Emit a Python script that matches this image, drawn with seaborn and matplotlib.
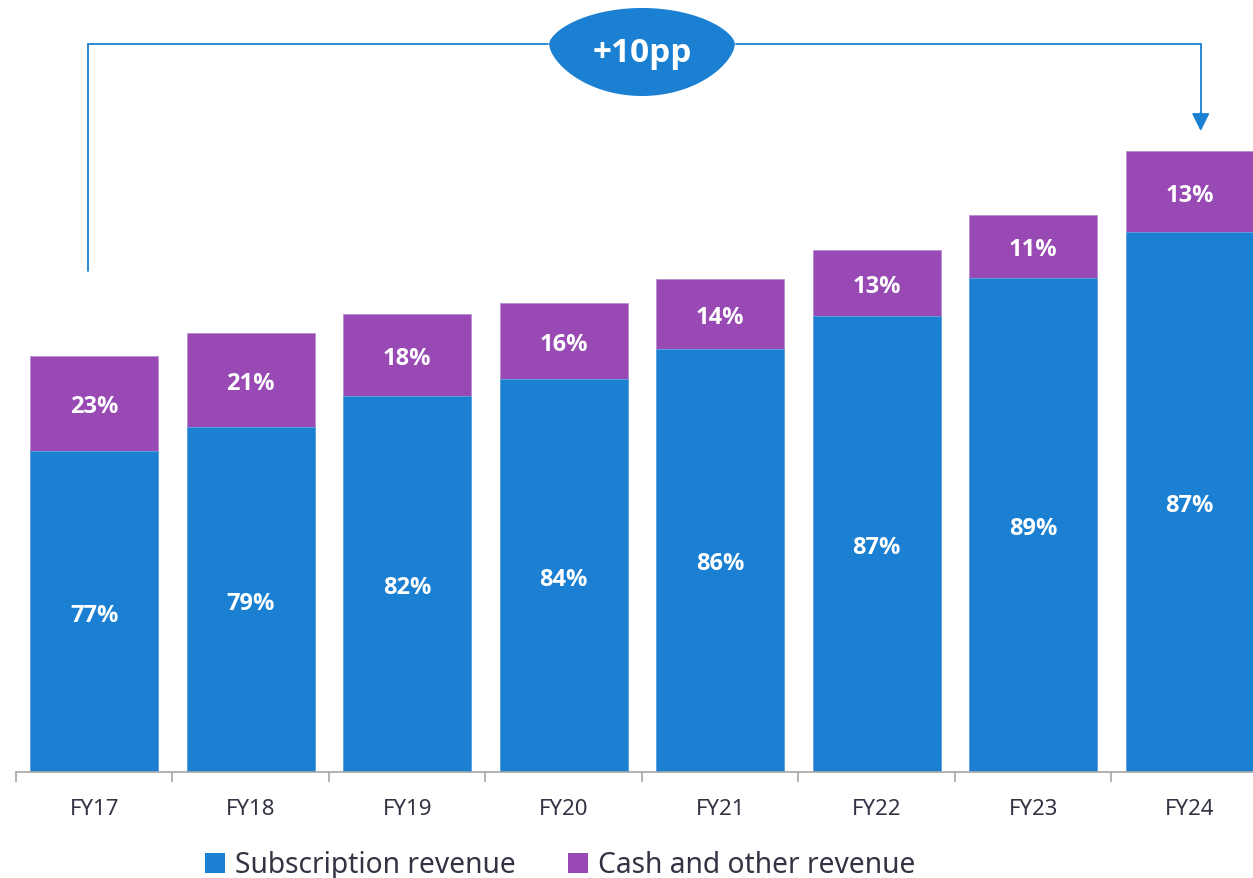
import numpy as np
import pandas as pd
import matplotlib
matplotlib.use("Agg")
import matplotlib.pyplot as plt
from matplotlib.patches import Polygon, Patch
import seaborn as sns

# ---- data ----
years = ["FY17", "FY18", "FY19", "FY20", "FY21", "FY22", "FY23", "FY24"]
subscription = [321, 345, 376, 393, 423, 456, 494, 540]   # relative revenue (arbitrary units)
cash_other = [95, 94, 82, 76, 70, 66, 63, 81]
sub_share = ["77%", "79%", "82%", "84%", "86%", "87%", "89%", "87%"]
cash_share = ["23%", "21%", "18%", "16%", "14%", "13%", "11%", "13%"]
legend_labels = ["Subscription revenue", "Cash and other revenue"]
callout = "+10pp"

BLUE = "#1B80D2"
PURPLE = "#9849B3"
TEXT = "#333344"
GRID = "#A6A6A6"

sns.set_theme(style="white")
plt.rcParams["font.family"] = ["Noto Sans", "DejaVu Sans"]
BOLD_FAM = ["Open Sans", "Lato", "DejaVu Sans"]

df = pd.DataFrame({"year": years, "sub": subscription, "cash": cash_other})
df["total"] = df["sub"] + df["cash"]

W, H = 1253, 879
fig = plt.figure(figsize=(W / 100, H / 100), dpi=100)
ax = fig.add_axes([16 / W, (H - 773) / H, 1252 / W, 773 / H])

sns.barplot(data=df, x="year", y="total", color=PURPLE, saturation=1, width=0.82,
            edgecolor="#B98FD0", linewidth=0.6, ax=ax)
sns.barplot(data=df, x="year", y="sub", color=BLUE, saturation=1, width=0.82,
            edgecolor="#5FA6E0", linewidth=0.6, ax=ax)

ax.set_xlim(-0.5, 7.5)
ax.set_ylim(0, 773)
ax.set_xlabel("")
ax.set_ylabel("")
ax.set_yticks([])
for s in ["left", "right", "top"]:
    ax.spines[s].set_visible(False)
ax.spines["bottom"].set_color(GRID)
ax.spines["bottom"].set_linewidth(1.2)

ax.set_xticks(range(len(years)))
ax.set_xticklabels(years, fontsize=16, color=TEXT)
ax.set_xticks(np.arange(-0.5, len(years), 1.0), minor=True)
ax.tick_params(axis="x", which="major", length=0, pad=19)
ax.tick_params(axis="x", which="minor", length=7, width=1.2, color=GRID, direction="out", bottom=True)

# segment labels
for i in range(len(years)):
    s = df["sub"][i]
    c = df["cash"][i]
    ax.text(i, s / 2 - 3, sub_share[i], ha="center", va="center", color="white",
            fontsize=17, fontweight="bold", family=BOLD_FAM)
    ax.text(i, s + c / 2 - 3, cash_share[i], ha="center", va="center", color="white",
            fontsize=17, fontweight="bold", family=BOLD_FAM)

# connector line with arrow
x0, x1 = -0.04, 7.07
y_top = 728
ax.plot([x0, x0, 3.5 - 0.6], [501, y_top, y_top], color=BLUE, lw=1.3, clip_on=False,
        solid_joinstyle="miter")
ax.plot([3.5 + 0.6, x1, x1], [y_top, y_top, 655], color=BLUE, lw=1.3, clip_on=False,
        solid_joinstyle="miter")
ax.annotate("", xy=(x1, 641), xytext=(x1, 660), annotation_clip=False,
            arrowprops=dict(arrowstyle="-|>,head_length=0.9,head_width=0.45",
                            color=BLUE, lw=1.3, shrinkA=0, shrinkB=0))

# bubble (eye shape)
u = np.linspace(-1, 1, 200)
hw = 93 / 156.5
top = y_top + 36 * (1 - u ** 2) ** 0.62
bot = y_top - 52 * (1 - u ** 2) ** 0.62
xs = np.concatenate([3.5 + hw * u, 3.5 + hw * u[::-1]])
ys = np.concatenate([top, bot[::-1]])
ax.add_patch(Polygon(np.column_stack([xs, ys]), closed=True, facecolor=BLUE,
                     edgecolor="none", clip_on=False, zorder=5))
ax.text(3.5, 719, callout, ha="center", va="center", color="white", fontsize=24,
        fontweight="bold", family=BOLD_FAM, zorder=6)

# legend
handles = [Patch(facecolor=BLUE, edgecolor="none"), Patch(facecolor=PURPLE, edgecolor="none")]
leg = fig.legend(handles, legend_labels, loc="center left", bbox_to_anchor=(205 / W, 13 / H),
                 ncol=2, frameon=False, fontsize=20.3, handlelength=0.72, handleheight=0.72,
                 handletextpad=0.35, columnspacing=1.85, borderaxespad=0, borderpad=0)
for t in leg.get_texts():
    t.set_color(TEXT)

fig.savefig("out.png", dpi=100)
